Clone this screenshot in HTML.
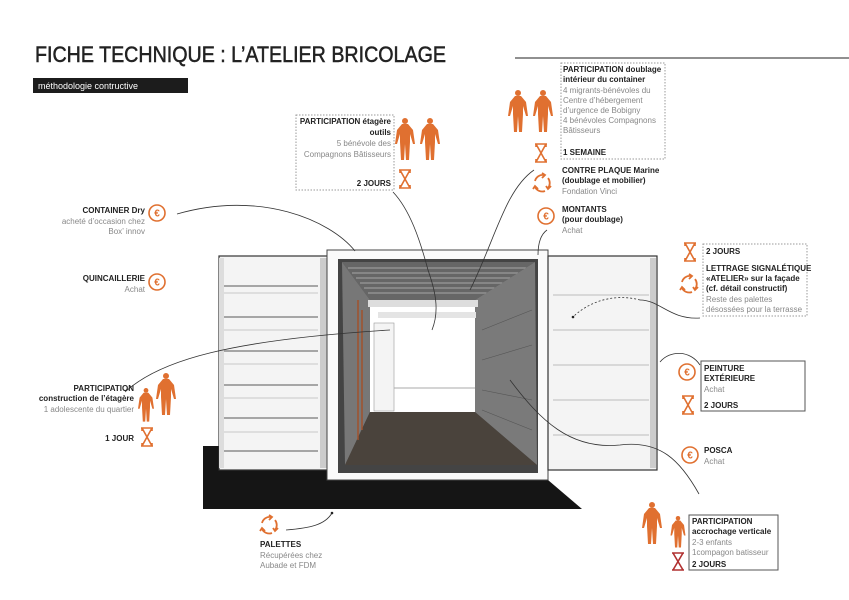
<!DOCTYPE html>
<html><head><meta charset="utf-8"><style>
html,body{margin:0;padding:0;background:#fff;}
svg{display:block;}
text{font-family:"Liberation Sans",sans-serif;}
.b{font-weight:bold;fill:#222;font-size:8px;}
.g{fill:#888;font-size:8px;}
</style></head><body>
<svg width="849" height="600" viewBox="0 0 849 600" xmlns="http://www.w3.org/2000/svg">
<defs>
<g id="person"><circle cx="0" cy="3" r="3" fill="#e07030"/><path d="M-3,6 L3,6 L8,12 L10,26 L8,26 L5,16 L5,24 L4,42 L1,42 L0,26 L-1,42 L-4,42 L-5,24 L-5,16 L-8,26 L-10,26 L-8,12 Z" fill="#e07030"/></g>
<g id="hg"><path d="M-6,0 H6 M-6,18 H6 M-5,0 L5,18 M5,0 L-5,18 M-5,0 V3 M5,0 V3 M-5,18 V15 M5,18 V15" stroke="#e07030" stroke-width="1.6" fill="none"/></g>
<g id="eur"><circle r="8" fill="none" stroke="#e07030" stroke-width="1.6"/><text x="0" y="3.5" text-anchor="middle" font-size="10" font-weight="bold" fill="#e07030">€</text></g>
<g id="rec" fill="none" stroke="#e07030" stroke-width="1.8"><path d="M-7,-2 A8,8 0 0 1 2,-8"/><path d="M6,-5 A8,8 0 0 1 6,5"/><path d="M3,8 A8,8 0 0 1 -7,4"/><path d="M0,-10 L3,-8 L0,-5" /><path d="M9,3 L6,6 L4,3"/><path d="M-9,6 L-7,3 L-4,6"/></g>
</defs>

<!-- title -->
<text x="35" y="62" font-size="22" fill="#222" stroke="#222" stroke-width="0.5" textLength="411" lengthAdjust="spacingAndGlyphs">FICHE TECHNIQUE : L’ATELIER BRICOLAGE</text>
<line x1="515" y1="58" x2="849" y2="58" stroke="#222" stroke-width="1"/>
<rect x="33" y="78" width="155" height="15" fill="#1c1c1c"/>
<text x="38" y="89" font-size="9" fill="#fff">méthodologie contructive</text>

<!-- ground -->
<polygon points="203,446 330,446 330,480 548,480 582,509 203,509" fill="#151515"/>

<!-- left door -->
<rect x="219" y="256" width="110" height="214" fill="#f4f4f4" stroke="#333" stroke-width="1.2"/>
<rect x="320" y="258" width="8" height="210" fill="#ccc"/>
<rect x="219" y="258" width="5" height="210" fill="#ddd"/>
<g stroke="#777" stroke-width="1.2">
<line x1="224" y1="286" x2="318" y2="286"/><line x1="224" y1="317" x2="318" y2="317"/><line x1="224" y1="351" x2="318" y2="351"/><line x1="224" y1="385" x2="318" y2="385"/><line x1="224" y1="418" x2="318" y2="418"/><line x1="224" y1="451" x2="318" y2="451"/></g>
<g stroke="#bbb" stroke-width="0.8"><line x1="224" y1="293" x2="318" y2="293"/><line x1="224" y1="330" x2="318" y2="330"/><line x1="224" y1="364" x2="318" y2="364"/><line x1="224" y1="398" x2="318" y2="398"/><line x1="224" y1="432" x2="318" y2="432"/></g>

<!-- frame -->
<rect x="327" y="250" width="221" height="230" fill="#fafafa" stroke="#444" stroke-width="1"/>
<rect x="338" y="259" width="200" height="214" fill="#444"/>
<!-- ceiling -->
<polygon points="342,262 535,262 475,300 370,300" fill="#666"/>
<g stroke="#bbb" stroke-width="0.8"><line x1="348" y1="268" x2="528" y2="268"/><line x1="352" y1="273" x2="522" y2="273"/><line x1="356" y1="278" x2="516" y2="278"/><line x1="360" y1="283" x2="508" y2="283"/><line x1="364" y1="288" x2="500" y2="288"/><line x1="368" y1="293" x2="490" y2="293"/></g>
<!-- walls -->
<polygon points="342,262 370,300 370,412 345,465" fill="#777"/>
<polygon points="535,262 475,300 475,412 537,465" fill="#7a7a7a"/>
<rect x="370" y="300" width="105" height="112" fill="#fff"/>
<rect x="368" y="300" width="110" height="7" fill="#ddd"/>
<rect x="378" y="312" width="98" height="6" fill="#e4e4e4"/>
<rect x="374" y="323" width="20" height="88" fill="#f4f4f4" stroke="#999" stroke-width="0.6"/>
<line x1="394" y1="388" x2="475" y2="388" stroke="#aaa"/>
<polygon points="370,412 475,412 537,465 345,465" fill="#4a433c"/>
<g stroke="#555" stroke-width="0.6"><line x1="482" y1="330" x2="532" y2="310"/><line x1="482" y1="360" x2="532" y2="345"/><line x1="482" y1="390" x2="532" y2="400"/><line x1="482" y1="410" x2="532" y2="430"/></g>
<path d="M358,300 L358,440 M362,310 L362,430" stroke="#a0522d" stroke-width="1.5"/>
<!-- right door -->
<rect x="548" y="256" width="109" height="214" fill="#f4f4f4" stroke="#333" stroke-width="1.2"/>
<rect x="650" y="258" width="6" height="210" fill="#ccc"/>
<g stroke="#aaa" stroke-width="0.8"><line x1="553" y1="295" x2="649" y2="295"/><line x1="553" y1="330" x2="649" y2="330"/><line x1="553" y1="365" x2="649" y2="365"/><line x1="553" y1="400" x2="649" y2="400"/><line x1="553" y1="435" x2="649" y2="435"/></g>

<!-- connectors -->
<g fill="none" stroke="#333" stroke-width="0.8">
<path d="M177,214 C260,190 330,220 355,251"/>
<path d="M393,192 C410,210 420,240 428,270 C435,290 440,310 432,330"/>
<path d="M534,170 C505,190 495,240 470,290"/>
<path d="M547,230 C540,235 538,245 538,255"/>
<path d="M700,318 C670,320 660,300 640,300" />
<path d="M640,300 C610,292 585,305 573,317" stroke-dasharray="2,2"/>
<path d="M700,365 C690,350 670,350 660,362"/>
<path d="M125,392 C160,360 230,340 390,330"/>
<path d="M699,494 C680,460 660,440 620,445 C570,450 540,420 510,380"/>
<path d="M286,530 C310,528 325,525 332,513"/>
</g>
<circle cx="332" cy="513" r="1.3" fill="#222"/><circle cx="573" cy="317" r="1.3" fill="#222"/>

<!-- Participation étagère outils -->
<rect x="296" y="115" width="98" height="75" fill="none" stroke="#999" stroke-dasharray="1.5,1.5"/>
<text class="b" x="391" y="124" text-anchor="end">PARTICIPATION étagère</text>
<text class="b" x="391" y="135" text-anchor="end">outils</text>
<text class="g" x="391" y="146" text-anchor="end">5 bénévole des</text>
<text class="g" x="391" y="157" text-anchor="end">Compagnons Bâtisseurs</text>
<text class="b" x="391" y="186" text-anchor="end">2 JOURS</text>
<use href="#person" x="405" y="118"/><use href="#person" x="430" y="118"/>
<use href="#hg" x="405" y="170"/>

<!-- doublage -->
<rect x="561" y="63" width="104" height="96" fill="none" stroke="#999" stroke-dasharray="1.5,1.5"/>
<text class="b" x="563" y="72">PARTICIPATION doublage</text>
<text class="b" x="563" y="82">intérieur du container</text>
<text class="g" x="563" y="93">4 migrants-bénévoles du</text>
<text class="g" x="563" y="103">Centre d’hébergement</text>
<text class="g" x="563" y="113">d’urgence de Bobigny</text>
<text class="g" x="563" y="123">4 bénévoles Compagnons</text>
<text class="g" x="563" y="133">Bâtisseurs</text>
<text class="b" x="563" y="155">1 SEMAINE</text>
<use href="#person" x="518" y="90"/><use href="#person" x="543" y="90"/>
<use href="#hg" x="541" y="144"/>
<text class="b" x="562" y="173">CONTRE PLAQUE Marine</text>
<text class="b" x="562" y="183">(doublage et mobilier)</text>
<text class="g" x="562" y="194">Fondation Vinci</text>
<use href="#rec" x="542" y="183"/>
<text class="b" x="562" y="212">MONTANTS</text>
<text class="b" x="562" y="222">(pour doublage)</text>
<text class="g" x="562" y="233">Achat</text>
<use href="#eur" x="546" y="216"/>

<!-- lettrage -->
<rect x="703" y="244" width="104" height="72" fill="none" stroke="#999" stroke-dasharray="1.5,1.5"/>
<text class="b" x="706" y="254">2 JOURS</text>
<use href="#hg" x="690" y="243"/>
<text class="b" x="706" y="271">LETTRAGE SIGNALÉTIQUE</text>
<text class="b" x="706" y="281">«ATELIER» sur la façade</text>
<text class="b" x="706" y="291">(cf. détail constructif)</text>
<text class="g" x="706" y="302">Reste des palettes</text>
<text class="g" x="706" y="312">désossées pour la terrasse</text>
<use href="#rec" x="689" y="284"/>

<!-- peinture -->
<rect x="701" y="361" width="104" height="50" fill="none" stroke="#555"/>
<text class="b" x="704" y="371">PEINTURE</text>
<text class="b" x="704" y="381">EXTÉRIEURE</text>
<text class="g" x="704" y="392">Achat</text>
<text class="b" x="704" y="408">2 JOURS</text>
<use href="#eur" x="687" y="372"/>
<use href="#hg" x="688" y="396"/>
<text class="b" x="704" y="453">POSCA</text>
<text class="g" x="704" y="464">Achat</text>
<use href="#eur" x="690" y="455"/>

<!-- accrochage -->
<rect x="689" y="515" width="89" height="55" fill="none" stroke="#555"/>
<text class="b" x="692" y="524">PARTICIPATION</text>
<text class="b" x="692" y="534">accrochage verticale</text>
<text class="g" x="692" y="545">2-3 enfants</text>
<text class="g" x="692" y="555">1compagon batisseur</text>
<text class="b" x="692" y="567">2 JOURS</text>
<use href="#person" x="652" y="502"/>
<use href="#person" transform="translate(678,516) scale(0.75)"/>
<g transform="translate(678,553)"><path d="M-6,0 H6 M-6,17 H6 M-5,0 L5,17 M5,0 L-5,17" stroke="#b03030" stroke-width="1.6" fill="none"/></g>

<!-- left -->
<text class="b" x="145" y="213" text-anchor="end">CONTAINER Dry</text>
<text class="g" x="145" y="224" text-anchor="end">acheté d’occasion chez</text>
<text class="g" x="145" y="234" text-anchor="end">Box’ innov</text>
<use href="#eur" x="157" y="213"/>
<text class="b" x="145" y="281" text-anchor="end">QUINCAILLERIE</text>
<text class="g" x="145" y="292" text-anchor="end">Achat</text>
<use href="#eur" x="157" y="282"/>
<text class="b" x="134" y="391" text-anchor="end">PARTICIPATION</text>
<text class="b" x="134" y="401" text-anchor="end">construction de l’étagère</text>
<text class="g" x="134" y="412" text-anchor="end">1 adolescente du quartier</text>
<use href="#person" transform="translate(146,388) scale(0.8)"/>
<use href="#person" x="166" y="373"/>
<text class="b" x="134" y="441" text-anchor="end">1 JOUR</text>
<use href="#hg" x="147" y="428"/>

<!-- palettes -->
<use href="#rec" x="269" y="525"/>
<text class="b" x="260" y="547">PALETTES</text>
<text class="g" x="260" y="558">Récupérées chez</text>
<text class="g" x="260" y="568">Aubade et FDM</text>
</svg>
</body></html>
